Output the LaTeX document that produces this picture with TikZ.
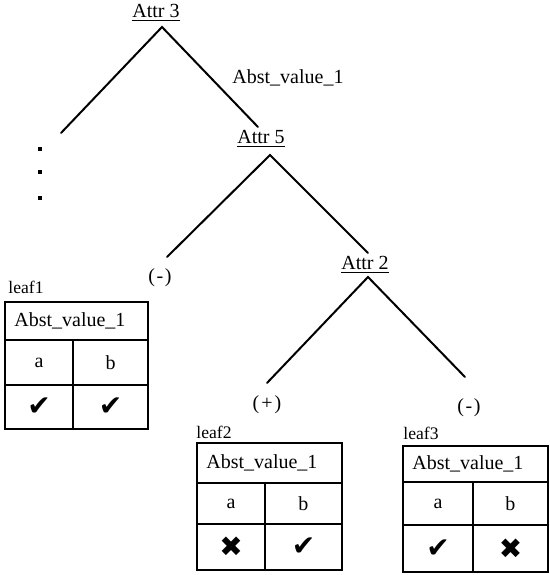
\documentclass[tikz,border=0pt]{standalone}
\usepackage{fontspec}
\setmainfont{Liberation Serif}
\newfontfamily\symfont{DejaVu Sans}
\begin{document}
\begin{tikzpicture}[x=0.5pt,y=-0.5pt,
  branch/.style={line width=1pt,line cap=round},
  cell/.style={line width=0.75pt},
  txt/.style={inner sep=0pt,font=\fontsize{10}{12}\selectfont},
  attr/.style={txt},
  leaflabel/.style={inner sep=0pt,font=\fontsize{8.8}{10}\selectfont},
  tick/.style={inner sep=0pt,font=\symfont\fontsize{14}{16}\selectfont},
  dot/.style={fill=black,inner sep=0pt,minimum size=2pt}]
\useasboundingbox (0,0) rectangle (550,575);

% decision nodes
\node[attr] (attr3) at (156,13) {\underline{Attr 3}};
\node[attr] (attr5) at (261,139) {\underline{Attr 5}};
\node[attr] (attr2) at (365,265) {\underline{Attr 2}};

% branch end points
\coordinate (a3top) at (162,27);
\coordinate (a3left) at (61,133);
\coordinate (a3right) at (258,127);
\coordinate (a5top) at (270,155);
\coordinate (a5left) at (167,257);
\coordinate (a5right) at (368,253);
\coordinate (a2top) at (368,277);
\coordinate (a2left) at (267,383);
\coordinate (a2right) at (465,377);

\draw[branch] (a3left) -- (a3top) -- (a3right);
\draw[branch] (a5left) -- (a5top) -- (a5right);
\draw[branch] (a2left) -- (a2top) -- (a2right);

% branch label
\node[txt] (lbl) at (288,78) {Abst\_value\_1};

% elided subtree
\node[dot] (d1) at (40,149) {};
\node[dot] (d2) at (40,172) {};
\node[dot] (d3) at (40,198) {};

% class labels
\node[txt] (c1) at (160,278) {(\kern0.8pt-\kern0.8pt)};
\node[txt] (c2) at (267,405) {(\kern1pt+\kern1pt)};
\node[txt] (c3) at (469,408) {(\kern0.8pt-\kern0.8pt)};

% leaf tables: name, left, right, middle, top, row1, row2, bottom
\newcommand\leafbox[8]{%
  \draw[cell] (#2,#5) rectangle (#3,#8);
  \draw[cell] (#2,#6) -- (#3,#6) (#2,#7) -- (#3,#7) (#4,#6) -- (#4,#8);
  \node[txt,anchor=west] (#1h) at ({#2+9},{(#5+#6)/2}) {Abst\_value\_1};
  \node[txt] (#1a) at ({(#2+#4)/2},{(#6+#7)/2}) {a};
  \node[txt] (#1b) at ({(#4+#3)/2},{(#6+#7)/2}) {b};
  \coordinate (#1ma) at ({(#2+#4)/2},{(#7+#8)/2});
  \coordinate (#1mb) at ({(#4+#3)/2},{(#7+#8)/2});
}
\leafbox{l1}{5}{148}{73}{302}{340}{385}{429}
\leafbox{l2}{197}{342}{265}{443}{483}{524}{570}
\leafbox{l3}{403}{548}{473}{446}{482}{525}{572}

\node[leaflabel,anchor=west] (leaf1) at (8,287) {leaf1};
\node[leaflabel,anchor=west] (leaf2) at (196,432) {leaf2};
\node[leaflabel,anchor=west] (leaf3) at (403,433) {leaf3};

\node[tick] (m1a) at (l1ma) {✔};
\node[tick] (m1b) at (l1mb) {✔};
\node[tick] (m2a) at (l2ma) {✖};
\node[tick] (m2b) at (l2mb) {✔};
\node[tick] (m3a) at (l3ma) {✔};
\node[tick] (m3b) at (l3mb) {✖};
\end{tikzpicture}
\end{document}
